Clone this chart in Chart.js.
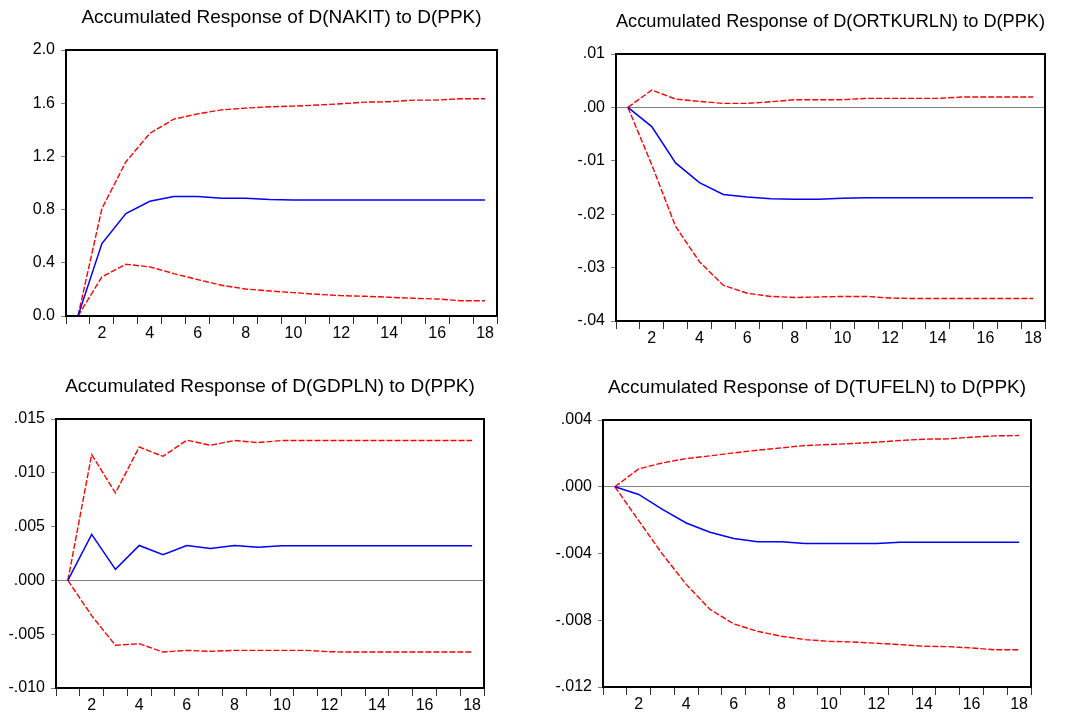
<!DOCTYPE html>
<html>
<head>
<meta charset="utf-8">
<script src="https://cdn.jsdelivr.net/npm/chart.js@4.4.1/dist/chart.umd.min.js"></script>
<style>
  html, body { margin: 0; padding: 0; background: #ffffff; }
  body { width: 1081px; height: 716px; position: relative; overflow: hidden; }
  .panel { position: absolute; }
</style>
</head>
<body>
<div id="p1" class="panel"><canvas id="c1"></canvas></div>
<div id="p2" class="panel"><canvas id="c2"></canvas></div>
<div id="p3" class="panel"><canvas id="c3"></canvas></div>
<div id="p4" class="panel"><canvas id="c4"></canvas></div>
<script>
// Response horizon (periods 1..18)
const periods = ['1','2','3','4','5','6','7','8','9','10','11','12','13','14','15','16','17','18'];

// D(NAKIT) accumulated response and +/- 2 S.E. bands
const nakitResp  = [0, 0.545, 0.770, 0.863, 0.898, 0.898, 0.886, 0.886, 0.876, 0.873, 0.873, 0.873, 0.873, 0.873, 0.873, 0.873, 0.873, 0.873];
const nakitUpper = [0, 0.808, 1.159, 1.373, 1.480, 1.520, 1.550, 1.563, 1.573, 1.578, 1.586, 1.596, 1.608, 1.611, 1.623, 1.623, 1.634, 1.634];
const nakitLower = [0, 0.294, 0.389, 0.369, 0.319, 0.274, 0.231, 0.203, 0.188, 0.176, 0.163, 0.153, 0.148, 0.141, 0.133, 0.128, 0.115, 0.115];
const nakitTicks = ['0.0', '0.4', '0.8', '1.2', '1.6', '2.0'];

// D(ORTKURLN)
const ortkResp  = [0, -0.0036, -0.0104, -0.0141, -0.0163, -0.0168, -0.0171, -0.0172, -0.0172, -0.0170, -0.0169, -0.0169, -0.0169, -0.0169, -0.0169, -0.0169, -0.0169, -0.0169];
const ortkUpper = [0, 0.00325, 0.00156, 0.00112, 0.00075, 0.00075, 0.00106, 0.00144, 0.00144, 0.00144, 0.00169, 0.00169, 0.00169, 0.00169, 0.00194, 0.00194, 0.00194, 0.00194];
const ortkLower = [0, -0.01075, -0.0223, -0.0289, -0.0333, -0.0348, -0.0354, -0.0356, -0.0355, -0.0354, -0.0354, -0.0357, -0.0358, -0.0358, -0.0358, -0.0358, -0.0358, -0.0358];
const ortkTicks = ['-.04', '-.03', '-.02', '-.01', '.00', '.01'];

// D(GDPLN)
const gdpResp  = [0, 0.00428, 0.00103, 0.00325, 0.00238, 0.00325, 0.00297, 0.00325, 0.00309, 0.00322, 0.00322, 0.00322, 0.00322, 0.00322, 0.00322, 0.00322, 0.00322, 0.00322];
const gdpUpper = [0, 0.01169, 0.00813, 0.01240, 0.01153, 0.01303, 0.01256, 0.01300, 0.01281, 0.01300, 0.01300, 0.01300, 0.01300, 0.01300, 0.01300, 0.01300, 0.01300, 0.01300];
const gdpLower = [0, -0.00328, -0.00603, -0.00588, -0.00666, -0.00650, -0.00659, -0.00650, -0.00650, -0.00650, -0.00650, -0.00663, -0.00666, -0.00666, -0.00666, -0.00666, -0.00666, -0.00666];
const gdpTicks = ['-.010', '-.005', '.000', '.005', '.010', '.015'];

// D(TUFELN)
const tufResp  = [0, -0.00046, -0.00135, -0.00217, -0.00273, -0.00310, -0.00330, -0.00330, -0.00340, -0.00340, -0.00340, -0.00340, -0.00332, -0.00332, -0.00332, -0.00332, -0.00332, -0.00332];
const tufUpper = [0, 0.00107, 0.00143, 0.00169, 0.00185, 0.00203, 0.00219, 0.00233, 0.00247, 0.00253, 0.00259, 0.00267, 0.00277, 0.00285, 0.00287, 0.00297, 0.00305, 0.00307];
const tufLower = [0, -0.00203, -0.00404, -0.00585, -0.00735, -0.00822, -0.00866, -0.00896, -0.00916, -0.00926, -0.00930, -0.00938, -0.00946, -0.00956, -0.00958, -0.00966, -0.00977, -0.00977];
const tufTicks = ['-.012', '-.008', '-.004', '.000', '.004'];

const FONT = "'Liberation Sans', Arial, sans-serif";
const TICK_SIZE = 16;
const Y_AXIS_W = 60;
const TITLE_PAD_TOP = 7, TITLE_SIZE = 19, TITLE_PAD_BOTTOM = 23;
const HEAD_H = TITLE_PAD_TOP + TITLE_SIZE + TITLE_PAD_BOTTOM;
const X_AXIS_H = 30;
const RIGHT_PAD = 10;

// Black box around the plotting area
const frameBox = {
  id: 'frameBox',
  afterDatasetsDraw(chart) {
    const a = chart.chartArea;
    const ctx = chart.ctx;
    ctx.save();
    ctx.strokeStyle = '#000000';
    ctx.lineWidth = 2;
    ctx.strokeRect(a.left, a.top, a.right - a.left, a.bottom - a.top);
    ctx.restore();
  }
};

function makePanel(divId, canvasId, frame, title, resp, upper, lower, yMin, yMax, yStep, tickLabels) {
  const W = frame.w + Y_AXIS_W + RIGHT_PAD;
  const H = frame.h + HEAD_H + X_AXIS_H;
  const div = document.getElementById(divId);
  div.style.left = (frame.x - Y_AXIS_W) + 'px';
  div.style.top = (frame.y - HEAD_H) + 'px';
  div.style.width = W + 'px';
  div.style.height = H + 'px';
  const cv = document.getElementById(canvasId);
  cv.width = W; cv.height = H;

  const band = (data) => ({
    data, borderColor: '#ff0000', borderWidth: 1.4, borderDash: [6, 2],
    pointRadius: 0, tension: 0, fill: false
  });

  new Chart(cv, {
    type: 'line',
    data: {
      labels: periods,
      datasets: [
        { data: resp, borderColor: '#0000ff', borderWidth: 1.5, pointRadius: 0, tension: 0, fill: false },
        band(upper),
        band(lower)
      ]
    },
    options: {
      responsive: false,
      devicePixelRatio: 1,
      animation: false,
      events: [],
      layout: { padding: { top: 0, left: 0, right: RIGHT_PAD, bottom: 0 } },
      plugins: {
        legend: { display: false },
        tooltip: { enabled: false },
        title: {
          display: true,
          text: title,
          fullSize: false,
          color: '#000000',
          font: { family: FONT, size: TITLE_SIZE, weight: 'normal', lineHeight: 1 },
          padding: { top: TITLE_PAD_TOP, bottom: TITLE_PAD_BOTTOM }
        }
      },
      scales: {
        x: {
          type: 'category',
          offset: true,
          afterFit(s) { s.height = X_AXIS_H; },
          border: { display: false },
          grid: { offset: true, drawOnChartArea: false, drawTicks: true, tickLength: 8, tickColor: '#333333', lineWidth: 1 },
          ticks: {
            autoSkip: false, maxRotation: 0, padding: 0, color: '#000000',
            font: { family: FONT, size: TICK_SIZE },
            callback(v, i) { return (i + 1) % 2 === 0 ? periods[i] : ''; }
          }
        },
        y: {
          min: yMin, max: yMax,
          afterFit(s) { s.width = Y_AXIS_W; },
          border: { display: false },
          grid: {
            drawOnChartArea: true, drawTicks: true, tickLength: 5,
            color: (c) => (c.tick && Math.abs(c.tick.value) < 1e-12) ? '#808080' : 'rgba(0,0,0,0)',
            tickColor: '#808080', lineWidth: 1
          },
          ticks: {
            stepSize: yStep, padding: 6, color: '#000000',
            font: { family: FONT, size: TICK_SIZE },
            callback(v, i) { return tickLabels[i]; }
          }
        }
      }
    },
    plugins: [frameBox]
  });
}

makePanel('p1', 'c1', { x: 66, y: 50, w: 431, h: 266 },
  'Accumulated Response of D(NAKIT) to D(PPK)', nakitResp, nakitUpper, nakitLower, 0, 2.0, 0.4, nakitTicks);
makePanel('p2', 'c2', { x: 616, y: 54, w: 429, h: 267 },
  'Accumulated Response of D(ORTKURLN) to D(PPK)', ortkResp, ortkUpper, ortkLower, -0.04, 0.01, 0.01, ortkTicks);
makePanel('p3', 'c3', { x: 56, y: 419, w: 428, h: 269 },
  'Accumulated Response of D(GDPLN) to D(PPK)', gdpResp, gdpUpper, gdpLower, -0.010, 0.015, 0.005, gdpTicks);
makePanel('p4', 'c4', { x: 603, y: 420, w: 428, h: 267 },
  'Accumulated Response of D(TUFELN) to D(PPK)', tufResp, tufUpper, tufLower, -0.012, 0.004, 0.004, tufTicks);
</script>
</body>
</html>
